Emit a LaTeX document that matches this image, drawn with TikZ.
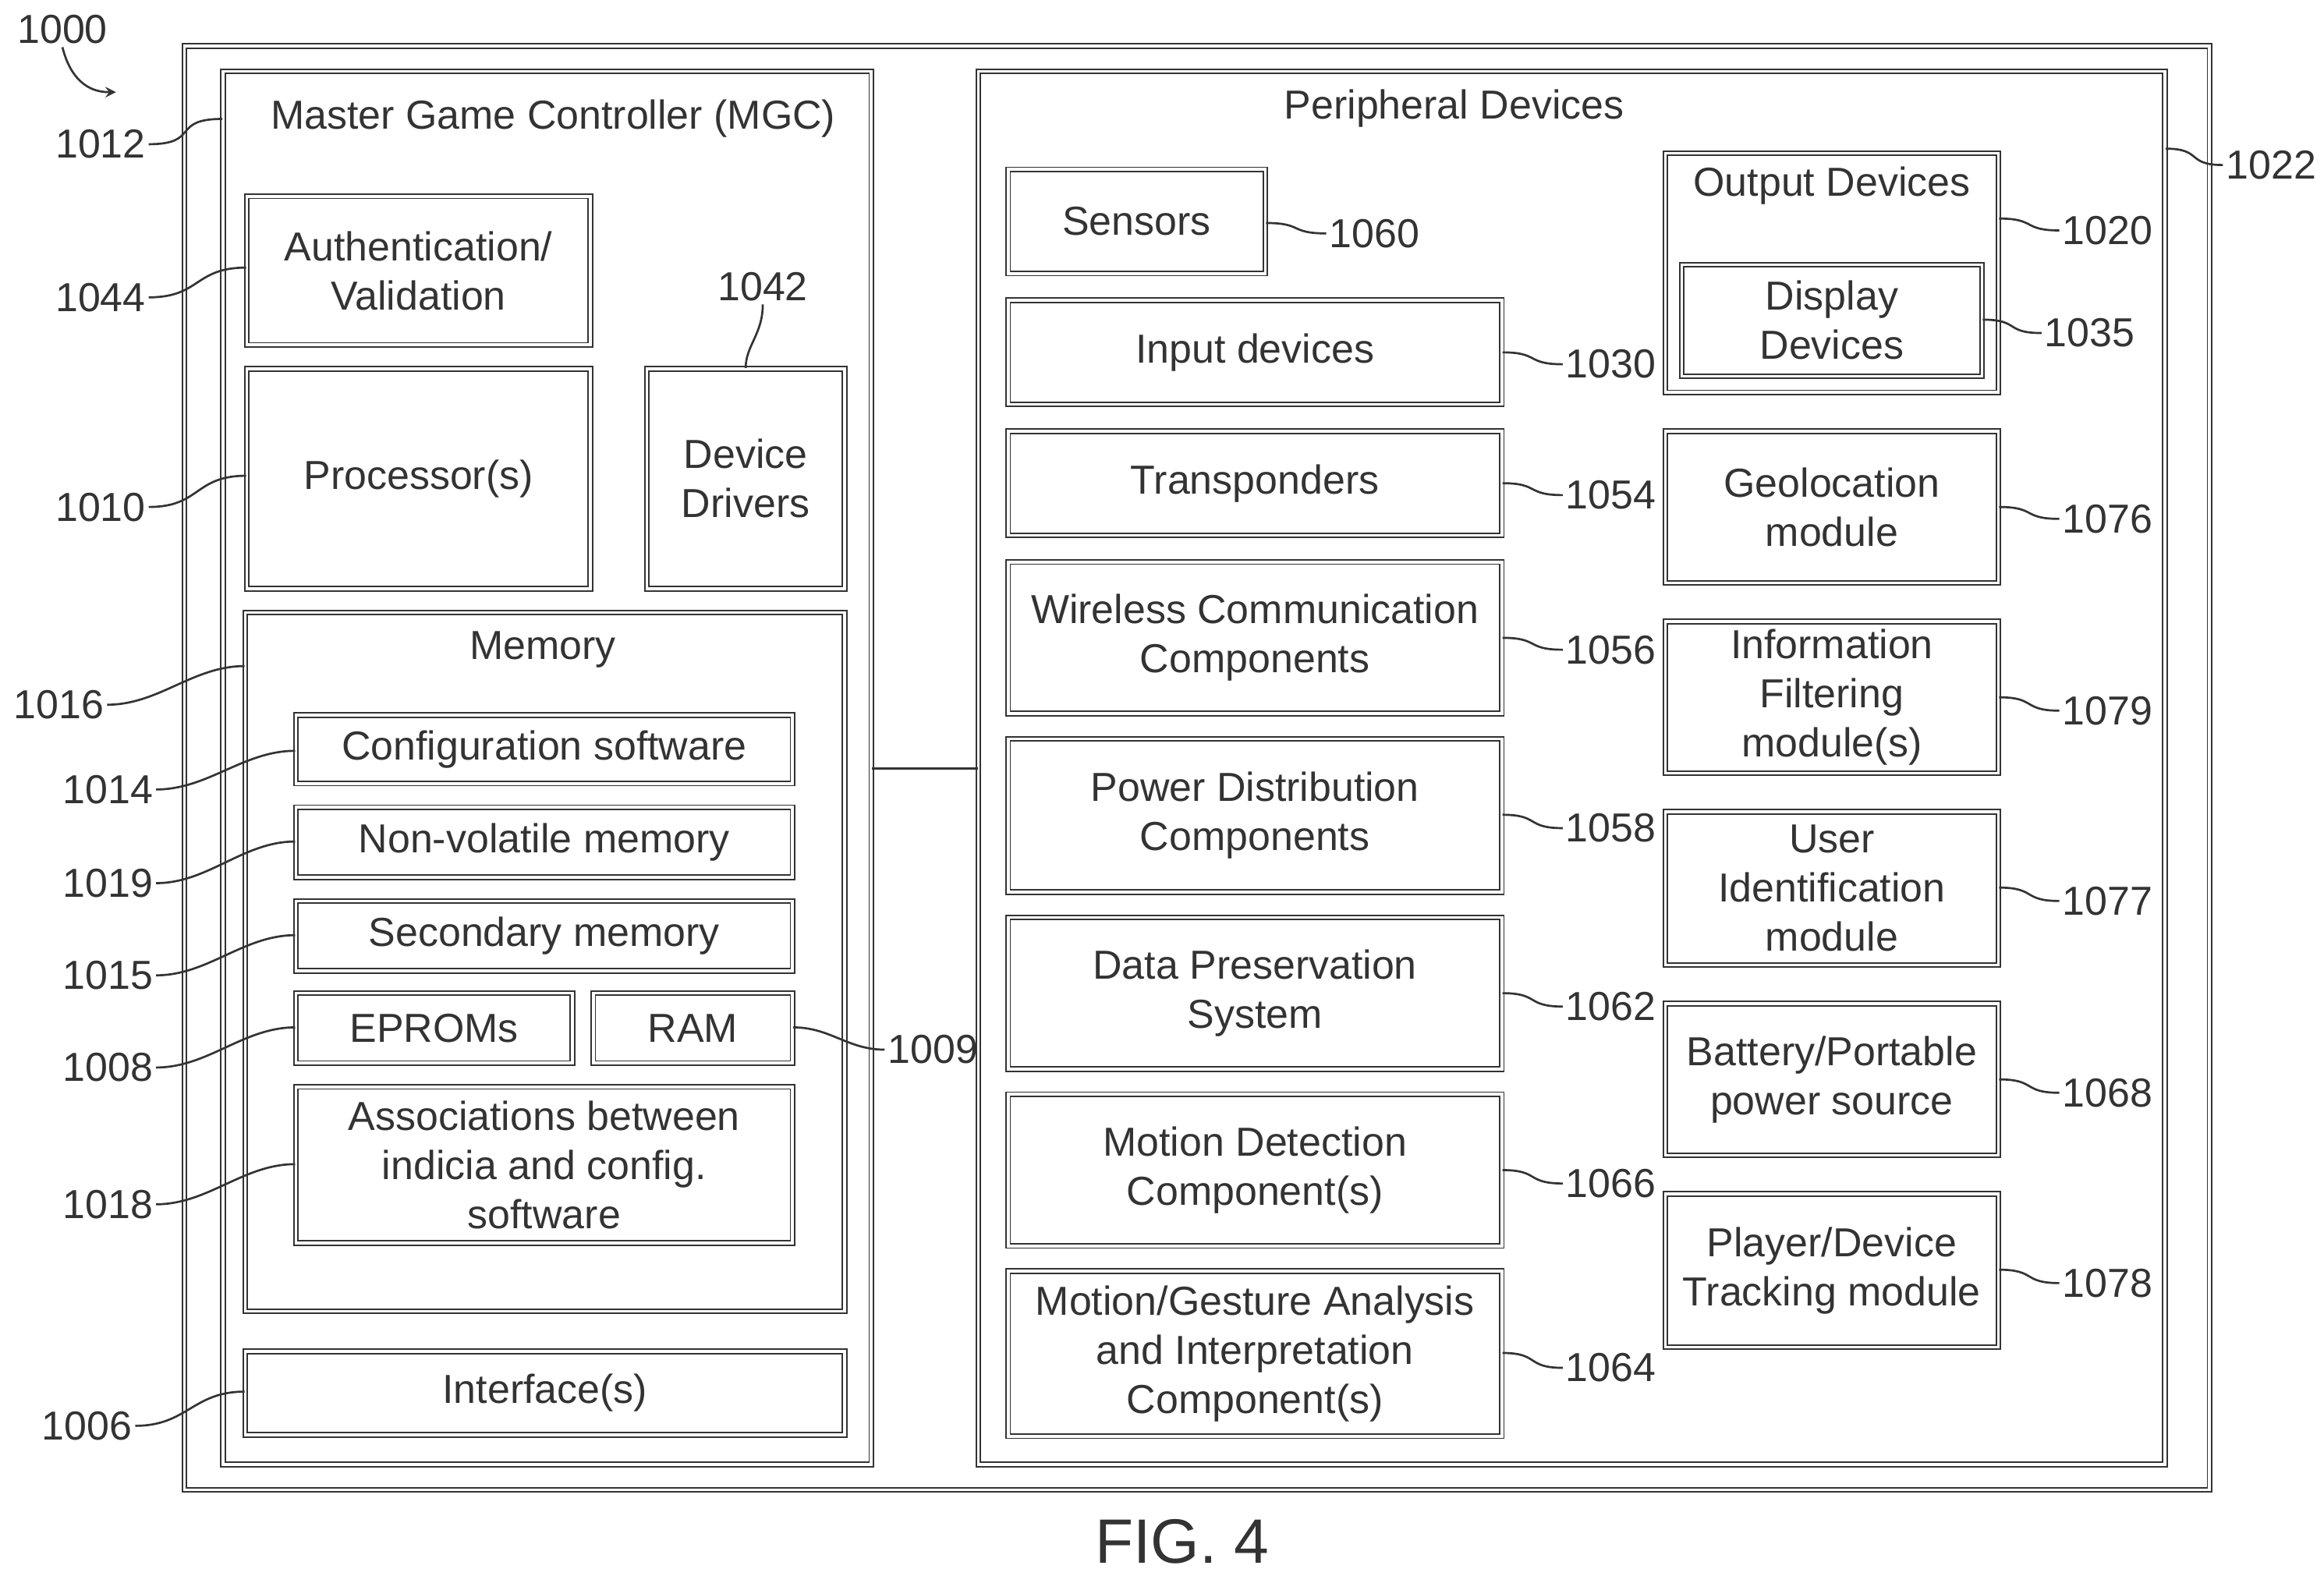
\documentclass[tikz,border=0pt]{standalone}
\usepackage{fontspec}
\setmainfont{Liberation Sans}
\usetikzlibrary{fit}
\definecolor{ink}{HTML}{333333}
\begin{document}
\begin{tikzpicture}[x=0.02cm,y=-0.02cm,
  every node/.style={text=ink,font=\fontsize{15.5}{18.8}\selectfont},
  box/.style={draw=ink,double=white,double distance=1.1pt,line width=0.55pt,inner sep=0pt},
  lab/.style={inner sep=1pt},
  lead/.style={draw=ink,line width=0.8pt}]
\useasboundingbox (0,0) rectangle (1563,1060);
\newcommand\bx[6]{\node[box,fit={(#2,#3)(#4,#5)}] (#1) {};
  \node[align=center,inner sep=0pt] at (#1.center) {#6};}
\bx{outer}{124}{31}{1486}{1002}{}
\bx{mgc}{150}{48}{586}{985}{}
\node at (372,80) (mgct) {Master Game Controller (MGC)};
\bx{auth}{166}{132}{397}{232}{Authentication/\\Validation}
\bx{proc}{166}{248}{397}{396}{Processor(s)}
\bx{dd}{435}{248}{568}{396}{Device\\Drivers}
\bx{mem}{165}{412}{568}{882}{}
\node at (365,437) (memt) {Memory};
\bx{conf}{199}{481}{533}{527}{Configuration software}
\bx{nv}{199}{543}{533}{590}{Non-volatile memory}
\bx{sec}{199}{606}{533}{653}{Secondary memory}
\bx{ep}{199}{668}{385}{715}{EPROMs}
\bx{ram}{399}{668}{533}{715}{RAM}
\bx{assoc}{199}{731}{533}{836}{Associations between\\indicia and config.\\software}
\bx{intf}{165}{909}{568}{965}{Interface(s)}
\bx{per}{658}{48}{1456}{985}{}
\node at (978,73) (pert) {Peripheral Devices};
\bx{sens}{678}{114}{851}{184}{Sensors}
\bx{inp}{678}{202}{1010}{272}{Input devices}
\bx{trans}{678}{290}{1010}{360}{Transponders}
\bx{wire}{678}{378}{1010}{480}{Wireless Communication\\Components}
\bx{pow}{678}{497}{1010}{600}{Power Distribution\\Components}
\bx{data}{678}{617}{1010}{719}{Data Preservation\\System}
\bx{motd}{678}{736}{1010}{838}{Motion Detection\\Component(s)}
\bx{motg}{678}{855}{1010}{966}{Motion/Gesture Analysis\\and Interpretation\\Component(s)}
\bx{out}{1120}{103}{1344}{264}{}
\node at (1232,125) (outt) {Output Devices};
\bx{disp}{1131}{178}{1333}{253}{Display\\Devices}
\bx{geo}{1120}{290}{1344}{392}{Geolocation\\module}
\bx{info}{1120}{418}{1344}{520}{Information\\Filtering\\module(s)}
\bx{uid}{1120}{546}{1344}{649}{User\\Identification\\module}
\bx{bat}{1120}{675}{1344}{777}{Battery/Portable\\power source}
\bx{play}{1120}{803}{1344}{906}{Player/Device\\Tracking module}
\draw[lead] (mgc.east |- 0,517) -- (per.west |- 0,517);
% left labels
\newcommand\lfl[4]{\node[lab,anchor=east] (L#1) at (#2) {#1};
  \draw[lead] (L#1.east) .. controls +(35,0) and +(-35,0) .. (#3 |- 0,#4);}
\lfl{1012}{100,97}{mgc.west}{80}
\lfl{1044}{100,200}{auth.west}{180}
\lfl{1010}{100,341}{proc.west}{320}
\lfl{1016}{72,474}{mem.west}{448}
\lfl{1014}{105,531}{conf.west}{505}
\lfl{1019}{105,594}{nv.west}{566}
\lfl{1015}{105,656}{sec.west}{629}
\lfl{1008}{105,718}{ep.west}{691}
\lfl{1018}{105,810}{assoc.west}{783}
\lfl{1006}{91,959}{intf.west}{936}
% right labels
\newcommand\rtl[4]{\node[lab,anchor=west] (L#1) at (#2) {#1};
  \draw[lead] (#3 |- 0,#4) .. controls +(25,0) and +(-25,0) .. (L#1.west);}
\rtl{1022}{1495,111}{per.east}{100}
\rtl{1060}{892,157}{sens.east}{150}
\rtl{1030}{1051,245}{inp.east}{237}
\rtl{1054}{1051,333}{trans.east}{325}
\rtl{1056}{1051,437}{wire.east}{429}
\rtl{1058}{1051,557}{pow.east}{548}
\rtl{1062}{1051,677}{data.east}{668}
\rtl{1066}{1051,796}{motd.east}{787}
\rtl{1064}{1051,920}{motg.east}{910}
\rtl{1020}{1385,155}{out.east}{147}
\rtl{1035}{1373,224}{disp.east}{215}
\rtl{1076}{1385,349}{geo.east}{341}
\rtl{1079}{1385,478}{info.east}{469}
\rtl{1077}{1385,606}{uid.east}{597}
\rtl{1068}{1385,735}{bat.east}{726}
\rtl{1078}{1385,863}{play.east}{854}
\rtl{1009}{595,706}{ram.east}{691}
\node[lab] (L1042) at (513,193) {1042};
\draw[lead] (L1042.south) .. controls +(0,20) and +(0,-15) .. (dd.north);
\node[lab] (L1000) at (42,20) {1000};
\coordinate (a1000) at (78,62);
\draw[lead,->,>=stealth] (L1000.south) .. controls +(5,20) and +(-20,0) .. (a1000);
\node (fig) at (795,1037) {\fontsize{24}{28}\selectfont FIG. 4};
\end{tikzpicture}
\end{document}
